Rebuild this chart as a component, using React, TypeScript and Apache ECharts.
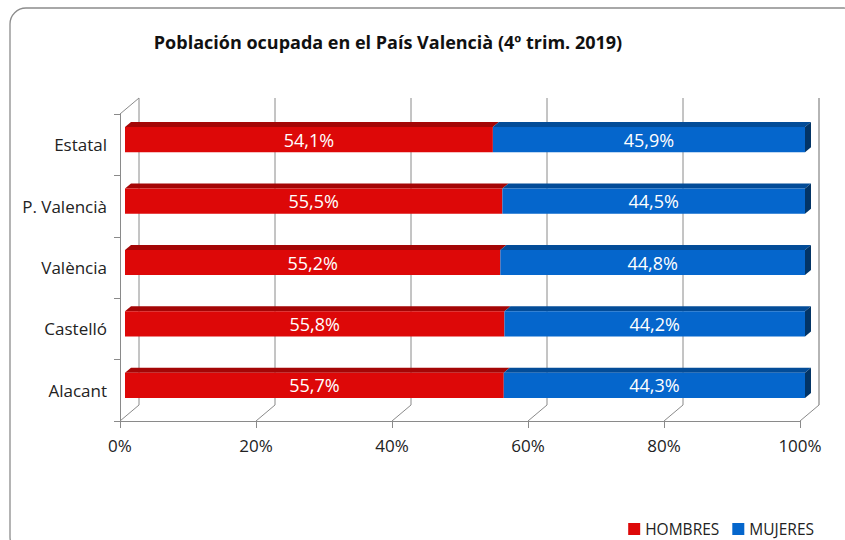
import React, { useEffect, useRef } from 'react';
import * as echarts from 'echarts';

const categories = ['Estatal', 'P. Valencià', 'València', 'Castelló', 'Alacant'];
const hombres = [54.1, 55.5, 55.2, 55.8, 55.7];
const mujeres = [45.9, 44.5, 44.8, 44.2, 44.3];
const xTicks = [0, 20, 40, 60, 80, 100];
const seriesNames = ['HOMBRES', 'MUJERES'];
const titleText = 'Población ocupada en el País Valencià (4º trim. 2019)';

const FONT = '"Open Sans", Lato, sans-serif';
const WALL_DX = 19;
const WALL_DY = 16;
const BAR_OFF_X = 5;
const BAR_OFF_Y = 5;
const BAR_DX = 6;
const BAR_DY = 5;
const BAR_RATIO = 0.41;
const WALL_COLOR = '#8a8a8a';

const colorsH = { front: '#DD0808', top: '#A40606', side: '#7a0404' };
const colorsM = { front: '#0566CC', top: '#034C98', side: '#023466' };

function fmt(v: number) {
  return v.toFixed(1).replace('.', ',') + '%';
}

function barSeries(name: string, starts: number[], ends: number[], values: number[], colors: any) {
  const data = categories.map((c, i) => [starts[i], ends[i], i, values[i]]);
  return {
    type: 'custom',
    name,
    coordinateSystem: 'cartesian2d',
    data,
    z: 3,
    itemStyle: { color: colors.front },
    encode: { x: [0, 1], y: 2 },
    renderItem: (params: any, api: any) => {
      const s = api.value(0);
      const e = api.value(1);
      const ci = api.value(2);
      const v = api.value(3);
      const p0 = api.coord([s, ci]);
      const p1 = api.coord([e, ci]);
      const band = api.size([0, 1])[1];
      const h = band * BAR_RATIO;
      const x0 = p0[0] + BAR_OFF_X;
      const x1 = p1[0] + BAR_OFF_X;
      const yc = p0[1] - BAR_OFF_Y;
      const yt = yc - h / 2;
      const yb = yc + h / 2;
      const children: any[] = [
        {
          type: 'polygon',
          shape: { points: [[x0, yt], [x1, yt], [x1 + BAR_DX, yt - BAR_DY], [x0 + BAR_DX, yt - BAR_DY]] },
          style: { fill: colors.top },
        },
        {
          type: 'rect',
          shape: { x: x0, y: yt, width: x1 - x0, height: h },
          style: { fill: colors.front },
        },
      ];
      if (e >= 100) {
        children.push({
          type: 'polygon',
          shape: { points: [[x1, yt], [x1 + BAR_DX, yt - BAR_DY], [x1 + BAR_DX, yb - BAR_DY], [x1, yb]] },
          style: { fill: colors.side },
        });
      }
      children.push({
        type: 'text',
        style: {
          text: fmt(v),
          x: (x0 + x1) / 2,
          y: yc,
          align: 'center',
          verticalAlign: 'middle',
          fill: '#ffffff',
          font: '18px ' + FONT,
        },
      });
      return { type: 'group', children };
    },
  };
}

const wallSeries = {
  type: 'custom',
  name: 'wall',
  coordinateSystem: 'cartesian2d',
  silent: true,
  z: 1,
  data: xTicks.map((t) => [t, 0]),
  encode: { x: 0, y: 1 },
  renderItem: (params: any, api: any) => {
    const t = api.value(0);
    const band = api.size([0, 1])[1];
    const pt = api.coord([t, 0]);
    const pb = api.coord([t, categories.length - 1]);
    const x = pt[0];
    const top = pt[1] - band / 2;
    const bot = pb[1] + band / 2;
    const ls = { stroke: WALL_COLOR, lineWidth: 1 };
    const children: any[] = [
      { type: 'line', shape: { x1: x + WALL_DX, y1: top - WALL_DY, x2: x + WALL_DX, y2: bot - WALL_DY }, style: t === 100 ? { stroke: '#b5b5b5', lineWidth: 2 } : ls },
      { type: 'line', shape: { x1: x, y1: bot, x2: x + WALL_DX, y2: bot - WALL_DY }, style: ls },
    ];
    if (t === 0) {
      children.push({ type: 'line', shape: { x1: x, y1: top, x2: x + WALL_DX, y2: top - WALL_DY }, style: ls });
    }
    return { type: 'group', children };
  },
};

export default function App() {
  const ref = useRef<HTMLDivElement>(null);
  useEffect(() => {
    if (!ref.current) return;
    const chart = echarts.init(ref.current, null, { renderer: 'svg' });
    const mStarts = hombres.map((h) => h);
    const mEnds = hombres.map((h, i) => h + mujeres[i]);
    const hStarts = hombres.map(() => 0);
    chart.setOption({
      animation: false,
      backgroundColor: '#ffffff',
      textStyle: { fontFamily: FONT },
      title: {
        text: titleText,
        left: 383,
        top: 28,
        textAlign: 'center',
        textStyle: { fontSize: 18, fontWeight: 'bold', color: '#111', fontFamily: FONT },
      },
      graphic: [
        {
          type: 'rect',
          shape: { x: 10, y: 8, width: 850, height: 545, r: 16 },
          style: { fill: 'none', stroke: '#8c8c8c', lineWidth: 1.3 },
          silent: true,
          z: 0,
        },
      ],
      legend: {
        data: seriesNames,
        right: 26,
        top: 516,
        icon: 'rect',
        itemWidth: 12,
        itemHeight: 12,
        itemGap: 13,
        itemStyle: { borderWidth: 0 },
        textStyle: { fontSize: 15.5, color: '#222', fontFamily: FONT },
      },
      grid: {
        left: 120,
        right: 45,
        top: 114,
        bottom: 119,
        outerBoundsMode: 'none',
      },
      xAxis: {
        type: 'value',
        min: 0,
        max: 100,
        interval: 20,
        axisLine: { show: true, lineStyle: { color: WALL_COLOR } },
        axisTick: { show: true, length: 7, lineStyle: { color: WALL_COLOR } },
        splitLine: { show: false },
        axisLabel: { formatter: '{value}%', fontSize: 17, color: '#222', margin: 16, fontFamily: FONT },
      },
      yAxis: {
        type: 'category',
        data: categories,
        inverse: true,
        axisLine: { show: true, lineStyle: { color: WALL_COLOR } },
        axisTick: { show: true, length: 6, lineStyle: { color: WALL_COLOR } },
        axisLabel: { fontSize: 17, color: '#222', margin: 13, fontFamily: FONT },
      },
      series: [
        wallSeries,
        barSeries(seriesNames[0], hStarts, hombres, hombres, colorsH),
        barSeries(seriesNames[1], mStarts, mEnds, mujeres, colorsM),
      ],
    });
    return () => chart.dispose();
  }, []);
  return <div ref={ref} style={{ position: 'fixed', left: 0, top: 0, width: 845, height: 540 }} />;
}
